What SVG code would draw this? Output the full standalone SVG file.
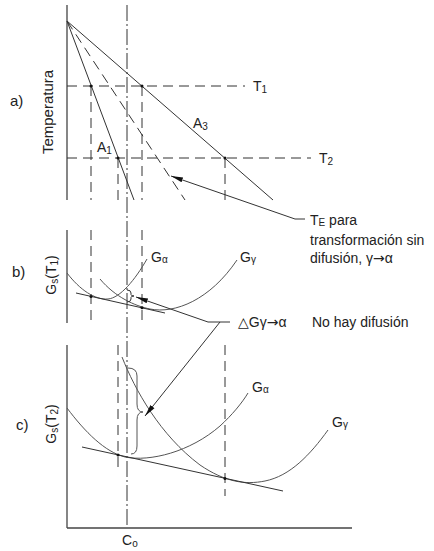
<svg xmlns="http://www.w3.org/2000/svg" width="434" height="551" viewBox="0 0 434 551">
<style>
.ln{fill:none;stroke:#333;stroke-width:1}
.gr{fill:none;stroke:#555;stroke-width:1}
.ds{fill:none;stroke:#333;stroke-width:1;stroke-dasharray:10,6}
.dd{fill:none;stroke:#333;stroke-width:1;stroke-dasharray:16,3,2,3}
.ax{fill:none;stroke:#444;stroke-width:1.3}
text{font-family:"Liberation Sans",Arial,"DejaVu Sans",sans-serif;fill:#222;font-size:14px}
.sub{font-size:10px}
.arr{font-family:"DejaVu Sans",sans-serif;font-size:14px}
.dot{fill:#111}
</style>
<defs>
<marker id="ah" markerUnits="userSpaceOnUse" markerWidth="14" markerHeight="8" refX="12" refY="4" orient="auto">
<path d="M0,1.5 L12,4 L0,6.5 z" fill="#111"/>
</marker>
</defs>

<g id="guide">
<line class="dd" x1="127" y1="5" x2="127" y2="528"/>
</g>

<g id="panel-a">
<line class="ax" x1="67" y1="5" x2="67" y2="200"/>
<line class="ln" x1="67" y1="21" x2="273" y2="200"/>
<line class="ln" x1="67" y1="21" x2="134" y2="200"/>
<line class="ds" x1="67" y1="21" x2="185" y2="200"/>
<line class="ds" x1="67" y1="86" x2="245" y2="86"/>
<line class="ds" x1="67" y1="158" x2="311" y2="158"/>
<line class="ds" x1="91" y1="86" x2="91" y2="200"/>
<line class="ds" x1="142" y1="86" x2="142" y2="200"/>
<line class="ds" x1="118" y1="158" x2="118" y2="200"/>
<line class="ds" x1="225" y1="158" x2="225" y2="200"/>
<circle class="dot" cx="91" cy="86" r="1.5"/>
<circle class="dot" cx="142" cy="86" r="1.5"/>
<circle class="dot" cx="118" cy="158" r="1.5"/>
<circle class="dot" cx="225" cy="158" r="1.5"/>
<text x="10" y="106" style="font-size:15px">a)</text>
<text transform="translate(53,112) rotate(-90)" text-anchor="middle" style="font-size:15px">Temperatura</text>
<text x="253" y="91">T<tspan class="sub" dy="2">1</tspan></text>
<text x="319" y="163">T<tspan class="sub" dy="2">2</tspan></text>
<text x="193" y="128">A<tspan class="sub" dy="2">3</tspan></text>
<text x="97" y="152">A<tspan class="sub" dy="2">1</tspan></text>
<text x="310" y="225">T<tspan class="sub" dy="1">E</tspan><tspan dy="-1"> para</tspan></text>
<text x="310" y="245">transformación sin</text>
<text x="310" y="263">difusión, γ<tspan class="arr">→</tspan>α</text>
</g>

<g id="panel-b">
<line class="ax" x1="67" y1="230" x2="67" y2="323"/>
<line class="ds" x1="91" y1="230" x2="91" y2="323"/>
<line class="ds" x1="142" y1="230" x2="142" y2="323"/>
<path class="gr" d="M67,273 C80,290 95,300 108,299 C120,298 135,280 147,259"/>
<path class="gr" d="M100,279 C115,297 135,306 150,309 C175,314 210,300 237,260"/>
<line class="ln" x1="76" y1="293" x2="165" y2="313"/>
<circle class="dot" cx="91" cy="296.4" r="1.5"/>
<circle class="dot" cx="142" cy="307.8" r="1.5"/>
<path class="ln" d="M127,290 Q131,290 131,293 L131,294.5 Q131,296 134,296 Q131,296 131,297.5 L131,299 Q131,302 127,302"/>
<text x="12" y="277" style="font-size:15px">b)</text>
<text transform="translate(56,275) rotate(-90)" text-anchor="middle">G<tspan class="sub" dy="2">s</tspan><tspan dy="-2">(T</tspan><tspan class="sub" dy="2">1</tspan><tspan dy="-2">)</tspan></text>
<text x="151" y="262">G<tspan class="sub" dy="1">α</tspan></text>
<text x="240" y="262">G<tspan class="sub" dy="1">γ</tspan></text>
<text x="238" y="327">△Gγ<tspan class="arr">→</tspan>α</text>
<text x="312" y="327">No hay difusión</text>
</g>

<g id="panel-c">
<line class="ax" x1="67" y1="345" x2="67" y2="528"/>
<line class="ax" x1="67" y1="528" x2="352" y2="528"/>
<line class="ds" x1="118" y1="345" x2="118" y2="472"/>
<line class="ds" x1="225" y1="345" x2="225" y2="496"/>
<path class="gr" d="M67,408 C85,432 105,452 125,457 C150,462 190,452 220,426 C232,415 242,403 248,393"/>
<path class="gr" d="M122,357 C135,390 160,435 200,465 C225,482 245,485 265,481 C290,476 310,455 328,430"/>
<line class="ln" x1="82" y1="447" x2="283" y2="491"/>
<circle class="dot" cx="118" cy="455" r="1.5"/>
<circle class="dot" cx="225" cy="478.4" r="1.5"/>
<path class="gr" d="M128,368 Q137,368 137,376 L137,404 Q137,412 143,412 Q137,412 137,420 L137,446 Q137,454 131,454"/>
<text x="16" y="430" style="font-size:15px">c)</text>
<text transform="translate(56,424) rotate(-90)" text-anchor="middle">G<tspan class="sub" dy="2">s</tspan><tspan dy="-2">(T</tspan><tspan class="sub" dy="2">2</tspan><tspan dy="-2">)</tspan></text>
<text x="252" y="392">G<tspan class="sub" dy="1">α</tspan></text>
<text x="332" y="427">G<tspan class="sub" dy="1">γ</tspan></text>
<text x="122" y="545">C<tspan class="sub" dy="2">o</tspan></text>
</g>

<g id="connectors">
<path class="ln" d="M305,219 H295 L171,176" marker-end="url(#ah)"/>
<path class="ln" d="M230,322 H208 L136,297" marker-end="url(#ah)"/>
<path class="ln" d="M220,322 L145,416" marker-end="url(#ah)"/>
</g>
</svg>
